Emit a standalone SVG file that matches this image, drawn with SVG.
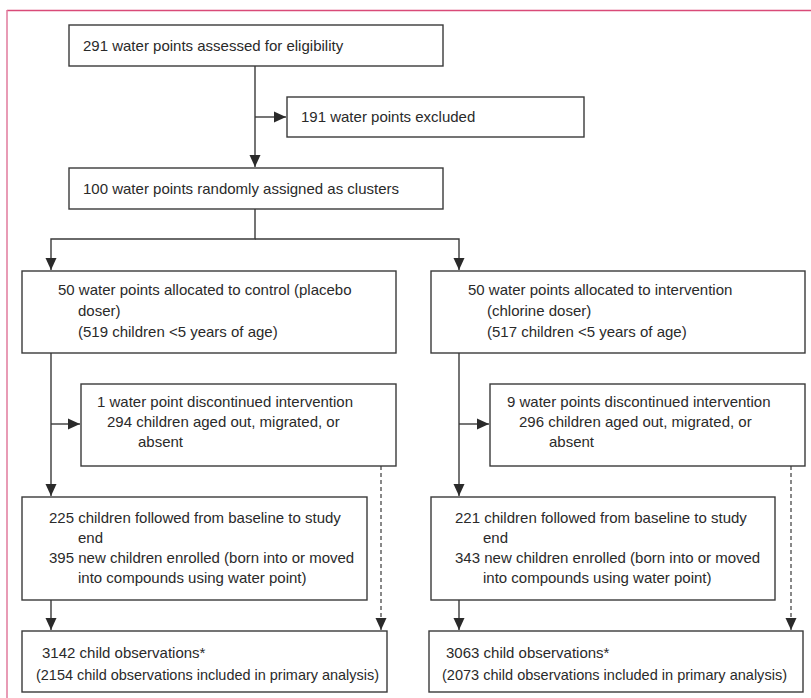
<svg xmlns="http://www.w3.org/2000/svg" width="811" height="698" viewBox="0 0 811 698">
<defs>
<style>
.box{fill:#fff;stroke:#3a3a3a;stroke-width:1.4}
.ln{fill:none;stroke:#3a3a3a;stroke-width:1.4}
.dash{fill:none;stroke:#3a3a3a;stroke-width:1.2;stroke-dasharray:4 3}
text{font-family:"Liberation Sans",Arial,sans-serif;font-size:15px;fill:#2a2a2a}
</style>
<marker id="ah" markerWidth="12" markerHeight="12" refX="12" refY="6" orient="auto" markerUnits="userSpaceOnUse">
<path d="M0,0.5 L12,6 L0,11.5 Z" fill="#2a2a2a"/>
</marker>
</defs>
<rect width="811" height="698" fill="#fff"/>
<g id="frame">
<line x1="7" y1="10.5" x2="811" y2="10.5" stroke="#d94a78" stroke-width="1.5"/>
<line x1="7" y1="10" x2="7" y2="698" stroke="#e07a9c" stroke-width="1.5"/>
</g>
<g id="connectors">
<line class="ln" x1="255" y1="66" x2="255" y2="167" marker-end="url(#ah)"/>
<line class="ln" x1="255" y1="117" x2="286" y2="117" marker-end="url(#ah)"/>
<polyline class="ln" points="255,209 255,239 51,239 51,270" marker-end="url(#ah)"/>
<polyline class="ln" points="255,239 459,239 459,270" marker-end="url(#ah)"/>
<line class="ln" x1="51" y1="353" x2="51" y2="496" marker-end="url(#ah)"/>
<line class="ln" x1="51" y1="424" x2="80" y2="424" marker-end="url(#ah)"/>
<line class="ln" x1="459" y1="353" x2="459" y2="496" marker-end="url(#ah)"/>
<line class="ln" x1="459" y1="424" x2="489" y2="424" marker-end="url(#ah)"/>
<line class="dash" x1="381" y1="466" x2="381" y2="630" marker-end="url(#ah)"/>
<line class="dash" x1="791" y1="466" x2="791" y2="630" marker-end="url(#ah)"/>
<line class="ln" x1="51" y1="600" x2="51" y2="630" marker-end="url(#ah)"/>
<line class="ln" x1="459" y1="600" x2="459" y2="630" marker-end="url(#ah)"/>
</g>
<g id="n_assessed">
<rect class="box" x="69" y="25" width="374" height="41"/>
<text x="83" y="51">291 water points assessed for eligibility</text>
</g>
<g id="n_excluded">
<rect class="box" x="287" y="97" width="297" height="40"/>
<text x="301" y="122">191 water points excluded</text>
</g>
<g id="n_random">
<rect class="box" x="69" y="168" width="374" height="41"/>
<text x="83" y="194">100 water points randomly assigned as clusters</text>
</g>
<g id="n_control">
<rect class="box" x="22" y="271" width="374" height="82"/>
<text x="58" y="295">50 water points allocated to control (placebo</text>
<text x="78" y="316">doser)</text>
<text x="78" y="337">(519 children &lt;5 years of age)</text>
</g>
<g id="n_intervention">
<rect class="box" x="431" y="271" width="374" height="82"/>
<text x="468" y="295">50 water points allocated to intervention</text>
<text x="487" y="316">(chlorine doser)</text>
<text x="487" y="337">(517 children &lt;5 years of age)</text>
</g>
<g id="n_disc_control">
<rect class="box" x="81" y="384" width="315" height="82"/>
<text x="97" y="407">1 water point discontinued intervention</text>
<text x="107" y="427">294 children aged out, migrated, or</text>
<text x="138" y="447">absent</text>
</g>
<g id="n_disc_intervention">
<rect class="box" x="490" y="384" width="315" height="82"/>
<text x="507" y="407">9 water points discontinued intervention</text>
<text x="519" y="427">296 children aged out, migrated, or</text>
<text x="549" y="447">absent</text>
</g>
<g id="n_follow_control">
<rect class="box" x="22" y="497" width="345" height="103"/>
<text x="49" y="523">225 children followed from baseline to study</text>
<text x="78" y="543">end</text>
<text x="49" y="563">395 new children enrolled (born into or moved</text>
<text x="78" y="583">into compounds using water point)</text>
</g>
<g id="n_follow_intervention">
<rect class="box" x="431" y="497" width="344" height="103"/>
<text x="455" y="523">221 children followed from baseline to study</text>
<text x="483" y="543">end</text>
<text x="455" y="563">343 new children enrolled (born into or moved</text>
<text x="483" y="583">into compounds using water point)</text>
</g>
<g id="n_obs_control">
<rect class="box" x="22" y="631" width="365" height="61"/>
<text x="42" y="658">3142 child observations*</text>
<text x="36" y="680" textLength="343" lengthAdjust="spacingAndGlyphs">(2154 child observations included in primary analysis)</text>
</g>
<g id="n_obs_intervention">
<rect class="box" x="429" y="631" width="374" height="61"/>
<text x="446" y="658">3063 child observations*</text>
<text x="442" y="680" textLength="345" lengthAdjust="spacingAndGlyphs">(2073 child observations included in primary analysis)</text>
</g>
</svg>
